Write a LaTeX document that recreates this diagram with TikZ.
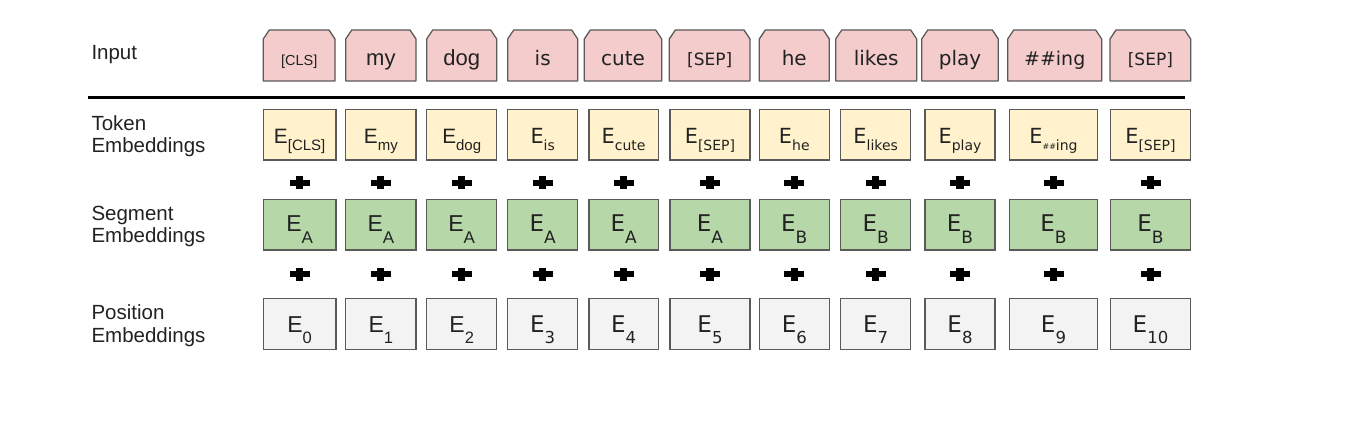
\documentclass[tikz,border=0pt]{standalone}
\usepackage{fontspec}
\setmainfont{Liberation Sans}
\newfontfamily\dvs{DejaVu Sans}
\definecolor{infill}{HTML}{F4CCCC}
\definecolor{tokfill}{HTML}{FFF2CC}
\definecolor{segfill}{HTML}{B6D7A8}
\definecolor{posfill}{HTML}{F3F3F3}
\definecolor{bordergray}{HTML}{5A5A5A}
\definecolor{txt}{HTML}{222222}
\newcommand\fsz[1]{\fontsize{#1}{#1}\selectfont}
\tikzset{
  x=1pt, y=-1pt,
  bd/.style={draw=bordergray, line width=1.3pt},
  inbox/.style={rectangle, inner sep=0pt, outer sep=0pt, minimum height=51},
  embbox/.style={rectangle, bd, inner sep=0pt, outer sep=0pt, minimum height=50.7},
  tokbox/.style={embbox, fill=tokfill},
  segbox/.style={embbox, fill=segfill},
  posbox/.style={embbox, fill=posfill},
  lbl/.style={inner sep=0pt, outer sep=0pt, text=txt},
  plusnode/.style={inner sep=0pt, outer sep=0pt, minimum width=20, minimum height=13},
}
\newcommand\plusat[1]{%
  \fill[black] ([xshift=-10pt,yshift=-2.8pt]#1.center) rectangle ([xshift=10pt,yshift=2.8pt]#1.center);
  \fill[black] ([xshift=-3.6pt,yshift=-6.5pt]#1.center) rectangle ([xshift=3.6pt,yshift=6.5pt]#1.center);
}
% #1 idx, #2-#3 input x-range, #4-#5 embedding x-range, #6 font, #7 input text, #8 token subscript, #9 segment letter
\newcommand\embcol[9]{%
  \node[inbox, minimum width={#3-#2}] (in#1) at ({(#2+#3)/2},55.5) {};
  \filldraw[bd, fill=infill, line join=round] (in#1.south west) -- ([yshift=-9pt]in#1.north west) -- ([xshift=6pt]in#1.north west) -- ([xshift=-6pt]in#1.north east) -- ([yshift=-9pt]in#1.north east) -- (in#1.south east) -- cycle;
  \node[lbl, anchor=base] (int#1) at ({(#2+#3)/2},65.5) {#6#7};
  \node[tokbox, minimum width={#5-#4}] (tok#1) at ({(#4+#5)/2},134.65) {};
  \node[lbl, anchor=base] (tokt#1) at ({(#4+#5)/2},143.5) {#6\fsz{20.8}E\raisebox{-7.5pt}{#8}};
  \node[plusnode] (pa#1) at ({(#4+#5)/2},183) {};
  \plusat{pa#1}
  \node[segbox, minimum width={#5-#4}] (seg#1) at ({(#4+#5)/2},224.65) {};
  \node[lbl, anchor=base] (segt#1) at ({(#4+#5)/2},232) {#6\fsz{23}E\raisebox{-12pt}{\fsz{17}#9}};
  \node[plusnode] (pb#1) at ({(#4+#5)/2},274) {};
  \plusat{pb#1}
  \node[posbox, minimum width={#5-#4}] (pos#1) at ({(#4+#5)/2},324) {};
  \node[lbl, anchor=base] (post#1) at ({(#4+#5)/2},332.5) {#6\fsz{23}E\raisebox{-10.5pt}{\fsz{16.5}\the\numexpr#1-1\relax}};
}
\begin{document}
\begin{tikzpicture}
\path[use as bounding box, fill=white] (0,0) rectangle (1369,425);
% row labels
\node[lbl, anchor=base west] (linput) at (91.5,60) {\fsz{20.5}Input};
\node[lbl, anchor=base west] (ltok1) at (91.5,130.2) {\fsz{20.5}Token};
\node[lbl, anchor=base west] (ltok2) at (91.5,152.7) {\fsz{20.5}Embeddings};
\node[lbl, anchor=base west] (lseg1) at (91.5,220.2) {\fsz{20.5}Segment};
\node[lbl, anchor=base west] (lseg2) at (91.5,242.7) {\fsz{20.5}Embeddings};
\node[lbl, anchor=base west] (lpos1) at (91.5,319.6) {\fsz{20.5}Position};
\node[lbl, anchor=base west] (lpos2) at (91.5,342.1) {\fsz{20.5}Embeddings};
% separator line
\coordinate (l1) at (88,97.3);
\coordinate (l2) at (1185,97.3);
\draw[line width=3.4pt, black] (l1) -- (l2);
% columns
\embcol{1}{263.3}{335}{263.3}{336}{\relax}{\fsz{14.5}[CLS]}{\fsz{15}[CLS]}{A}
\embcol{2}{345.7}{416}{345.7}{416}{\relax}{\fsz{22}my}{\fsz{15}my}{A}
\embcol{3}{426.7}{496.7}{426.7}{496.7}{\relax}{\fsz{22}dog}{\fsz{15}dog}{A}
\embcol{4}{507.7}{577.7}{507.7}{577.7}{\dvs}{\fsz{20}is}{\fsz{14}is}{A}
\embcol{5}{584.3}{661.7}{589}{658.3}{\dvs}{\fsz{20}cute}{\fsz{14}cute}{A}
\embcol{6}{669.3}{750}{670}{750}{\dvs}{\fsz{17}[SEP]}{\fsz{14}[SEP]}{A}
\embcol{7}{759.3}{829.3}{759.3}{829.3}{\dvs}{\fsz{20}he}{\fsz{14}he}{B}
\embcol{8}{835.7}{916.7}{840.7}{910.7}{\dvs}{\fsz{20}likes}{\fsz{14}likes}{B}
\embcol{9}{921.7}{998.3}{925}{995}{\dvs}{\fsz{20}play}{\fsz{14}play}{B}
\embcol{10}{1007.7}{1101.7}{1009.3}{1097.7}{\dvs}{\fsz{19}\#\#ing}{\raisebox{1pt}{\fsz{8}\#\#}\fsz{14}ing}{B}
\embcol{11}{1110}{1190.7}{1110.3}{1190.7}{\dvs}{\fsz{17}[SEP]}{\fsz{14}[SEP]}{B}
\end{tikzpicture}
\end{document}
